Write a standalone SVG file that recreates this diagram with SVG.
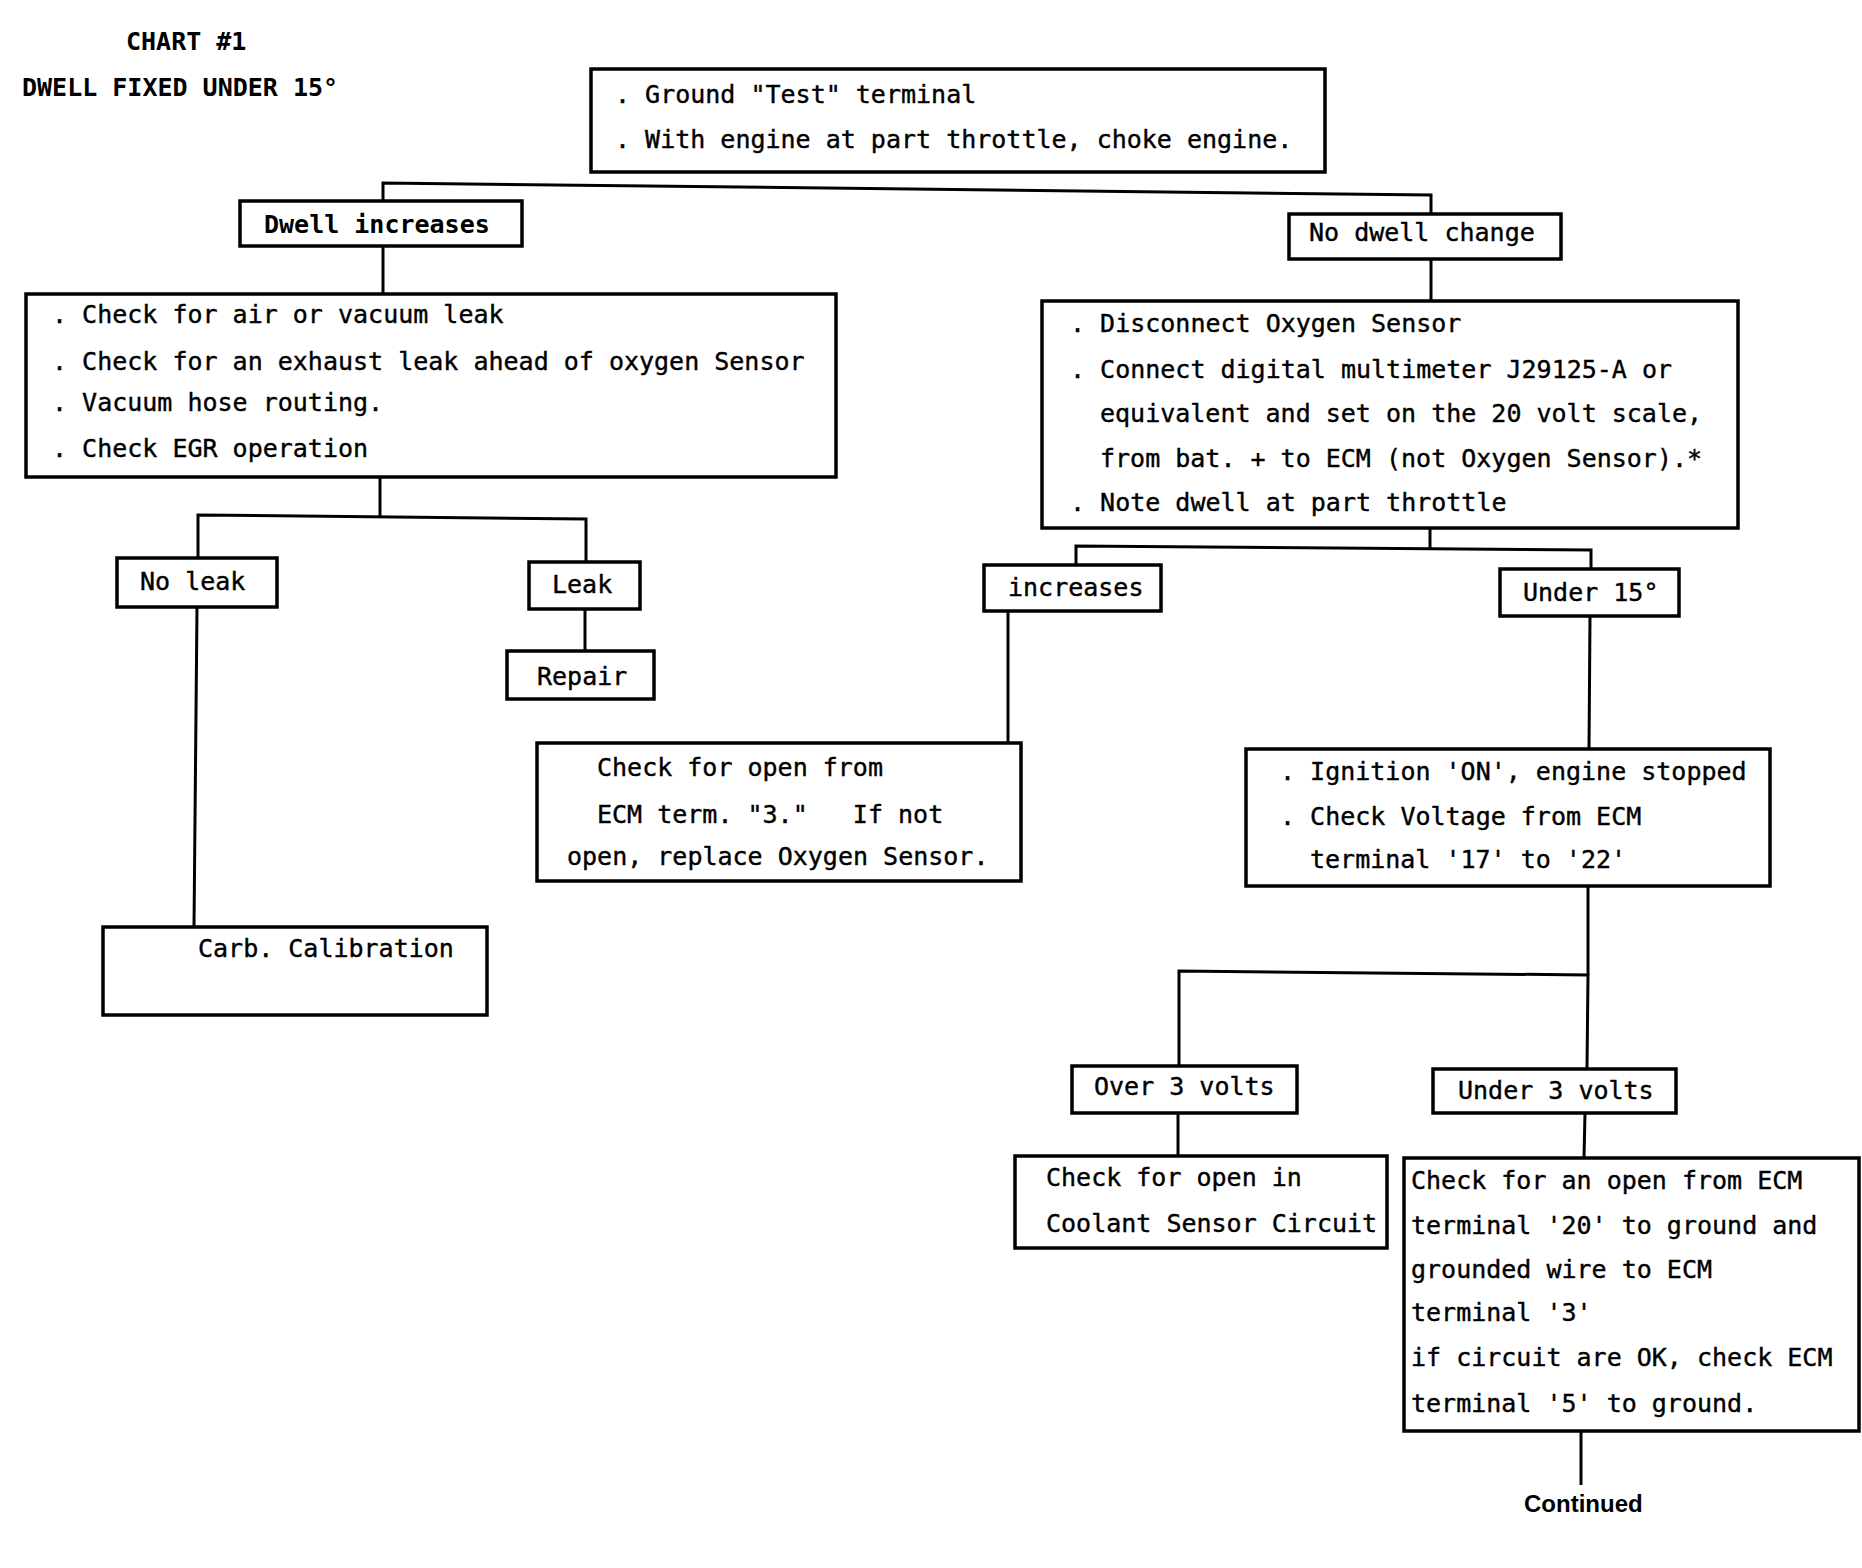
<svg xmlns="http://www.w3.org/2000/svg" width="1862" height="1568" viewBox="0 0 1862 1568">
<style>
.box{fill:none;stroke:#000;stroke-width:3.5}
.c{fill:none;stroke:#000;stroke-width:3}
.t{font-family:"DejaVu Sans Mono","Liberation Mono",monospace;font-size:25px;fill:#000;stroke:#000;stroke-width:0.4;white-space:pre}
.b{font-weight:bold;stroke-width:0}
.s{font-family:"Liberation Sans",Arial,sans-serif;font-size:24px;font-weight:bold;fill:#000}
</style>
<rect x="0" y="0" width="1862" height="1568" fill="#fff"/>
<g id="title">
<text class="t b" x="126" y="50">CHART #1</text>
<text class="t b" x="22" y="96">DWELL FIXED UNDER 15°</text>
</g>
<g id="connectors">
<polyline class="c" points="383,201 383,183 1431,195 1431,214"/>
<line class="c" x1="383" y1="246" x2="383" y2="294"/>
<line class="c" x1="1431" y1="259" x2="1431" y2="301"/>
<line class="c" x1="380" y1="477" x2="380" y2="516"/>
<polyline class="c" points="198,558 198,515 586,519 586,562"/>
<line class="c" x1="585" y1="609" x2="585" y2="651"/>
<line class="c" x1="197" y1="607" x2="194" y2="927"/>
<line class="c" x1="1430" y1="528" x2="1430" y2="548"/>
<polyline class="c" points="1076,565 1076,546 1591,550 1591,569"/>
<line class="c" x1="1008" y1="611" x2="1008" y2="743"/>
<line class="c" x1="1590" y1="616" x2="1589" y2="749"/>
<line class="c" x1="1588" y1="886" x2="1588" y2="975"/>
<polyline class="c" points="1179,1066 1179,971 1588,975 1587,1069"/>
<line class="c" x1="1178" y1="1113" x2="1178" y2="1156"/>
<line class="c" x1="1585" y1="1113" x2="1584" y2="1158"/>
<line class="c" x1="1581" y1="1431" x2="1581" y2="1485"/>
</g>
<g id="n-top">
<rect class="box" x="591" y="69" width="734" height="103"/>
<text class="t" x="615" y="103">. Ground "Test" terminal</text>
<text class="t" x="615" y="148">. With engine at part throttle, choke engine.</text>
</g>
<g id="n-dwell-increases">
<rect class="box" x="240" y="201" width="282" height="45"/>
<text class="t b" x="264" y="233">Dwell increases</text>
</g>
<g id="n-no-dwell-change">
<rect class="box" x="1289" y="214" width="272" height="45"/>
<text class="t" x="1309" y="241">No dwell change</text>
</g>
<g id="n-check-leak">
<rect class="box" x="26" y="294" width="810" height="183"/>
<text class="t" x="52" y="323">. Check for air or vacuum leak</text>
<text class="t" x="52" y="370">. Check for an exhaust leak ahead of oxygen Sensor</text>
<text class="t" x="52" y="411">. Vacuum hose routing.</text>
<text class="t" x="52" y="457">. Check EGR operation</text>
</g>
<g id="n-no-leak">
<rect class="box" x="117" y="558" width="160" height="49"/>
<text class="t" x="140" y="590">No leak</text>
</g>
<g id="n-leak">
<rect class="box" x="529" y="562" width="111" height="47"/>
<text class="t" x="552" y="593">Leak</text>
</g>
<g id="n-repair">
<rect class="box" x="507" y="651" width="147" height="48"/>
<text class="t" x="537" y="685">Repair</text>
</g>
<g id="n-carb">
<rect class="box" x="103" y="927" width="384" height="88"/>
<text class="t" x="198" y="957">Carb. Calibration</text>
</g>
<g id="n-disconnect">
<rect class="box" x="1042" y="301" width="696" height="227"/>
<text class="t" x="1070" y="332">. Disconnect Oxygen Sensor</text>
<text class="t" x="1070" y="378">. Connect digital multimeter J29125-A or</text>
<text class="t" x="1100" y="422">equivalent and set on the 20 volt scale,</text>
<text class="t" x="1100" y="467">from bat. + to ECM (not Oxygen Sensor).*</text>
<text class="t" x="1070" y="511">. Note dwell at part throttle</text>
</g>
<g id="n-increases">
<rect class="box" x="984" y="565" width="177" height="46"/>
<text class="t" x="1008" y="596">increases</text>
</g>
<g id="n-under-15">
<rect class="box" x="1500" y="569" width="179" height="47"/>
<text class="t" x="1523" y="601">Under 15°</text>
</g>
<g id="n-check-open">
<rect class="box" x="537" y="743" width="484" height="138"/>
<text class="t" x="597" y="776">Check for open from</text>
<text class="t" x="597" y="823">ECM term. "3."   If not</text>
<text class="t" x="567" y="865">open, replace Oxygen Sensor.</text>
</g>
<g id="n-ignition">
<rect class="box" x="1246" y="749" width="524" height="137"/>
<text class="t" x="1280" y="780">. Ignition 'ON', engine stopped</text>
<text class="t" x="1280" y="825">. Check Voltage from ECM</text>
<text class="t" x="1310" y="868">terminal '17' to '22'</text>
</g>
<g id="n-over-3">
<rect class="box" x="1072" y="1066" width="225" height="47"/>
<text class="t" x="1094" y="1095">Over 3 volts</text>
</g>
<g id="n-under-3">
<rect class="box" x="1433" y="1069" width="243" height="44"/>
<text class="t" x="1458" y="1099">Under 3 volts</text>
</g>
<g id="n-coolant">
<rect class="box" x="1015" y="1156" width="372" height="92"/>
<text class="t" x="1046" y="1186">Check for open in</text>
<text class="t" x="1046" y="1232">Coolant Sensor Circuit</text>
</g>
<g id="n-check-ecm">
<rect class="box" x="1404" y="1158" width="455" height="273"/>
<text class="t" x="1411" y="1189">Check for an open from ECM</text>
<text class="t" x="1411" y="1234">terminal '20' to ground and</text>
<text class="t" x="1411" y="1278">grounded wire to ECM</text>
<text class="t" x="1411" y="1321">terminal '3'</text>
<text class="t" x="1411" y="1366">if circuit are OK, check ECM</text>
<text class="t" x="1411" y="1412">terminal '5' to ground.</text>
</g>
<g id="n-continued">
<text class="s" x="1524" y="1512">Continued</text>
</g>
</svg>
